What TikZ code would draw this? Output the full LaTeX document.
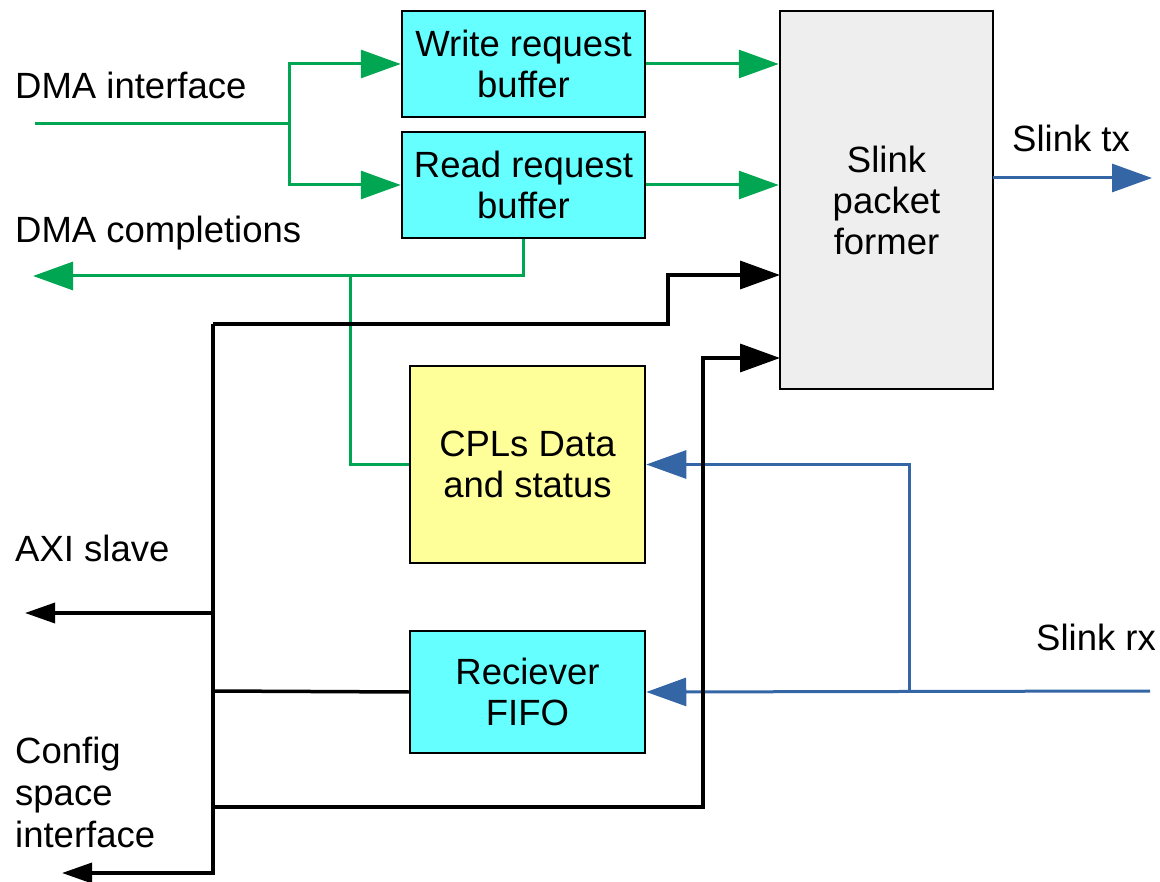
\documentclass[tikz,border=0pt]{standalone}
\usepackage{fontspec}
\setmainfont{Liberation Sans}
\usetikzlibrary{arrows.meta}

\definecolor{sigGreen}{RGB}{0,166,81}
\definecolor{sigBlue}{RGB}{52,101,164}
\definecolor{boxCyan}{RGB}{102,255,255}
\definecolor{boxYellow}{RGB}{255,255,153}
\definecolor{boxGray}{RGB}{238,238,238}

\tikzset{
  blockbox/.style={draw=black, line width=2.5pt, inner sep=0pt, align=center,
    font=\fontsize{36.5}{41}\selectfont},
  label text/.style={inner sep=0pt, anchor=base west, font=\fontsize{36.5}{41}\selectfont},
  bigtip/.tip={Triangle[length=40pt,width=28pt]},
  smalltip/.tip={Triangle[length=30pt,width=20pt]},
  gline/.style={draw=sigGreen, line width=3pt},
  bline/.style={draw=black, line width=3.5pt},
  uline/.style={draw=sigBlue, line width=3pt},
}

\begin{document}
\begin{tikzpicture}[x=1pt,y=-1pt]
\useasboundingbox (0,0) rectangle (1160,882);

% blocks
\node[blockbox, fill=boxCyan, minimum width=243pt, minimum height=106pt] (wrb) at (523.5,64) {Write request\\buffer};
\node[blockbox, fill=boxCyan, minimum width=243pt, minimum height=106pt] (rrb) at (523.5,185) {Read request\\buffer};
\node[blockbox, fill=boxGray, minimum width=213pt, minimum height=378pt] (spf) at (886.5,200) {Slink\\packet\\former};
\node[blockbox, fill=boxYellow, minimum width=235pt, minimum height=197pt] (cpl) at (527.5,464.5) {CPLs Data\\and status};
\node[blockbox, fill=boxCyan, minimum width=235pt, minimum height=122pt] (fifo) at (527.5,692) {Reciever\\FIFO};

% external labels
\node[label text] (ldmain) at (15,99) {DMA interface};
\node[label text] (ldmaout) at (15,243) {DMA completions};
\node[label text] (ltx) at (1012,152) {Slink tx};
\node[label text] (laxi) at (15,561) {AXI slave};
\node[label text] (lrx) at (1036,650) {Slink rx};
\node[label text] (lcfg1) at (15,763) {Config};
\node[label text] (lcfg2) at (15,805) {space};
\node[label text] (lcfg3) at (15,847) {interface};

% connector ends and junctions
\coordinate (dmain) at (35,124);
\coordinate (dmasplit) at (289,124);
\coordinate (dmaout) at (33,276);
\coordinate (cpltap) at (350,276);
\coordinate (sin1) at (780,275);
\coordinate (sin2) at (780,358);
\coordinate (stxa) at (993,178);
\coordinate (stxb) at (1152,178);
\coordinate (srx) at (1150,691);
\coordinate (srxtap) at (909,691);
\coordinate (axi) at (25,613);
\coordinate (cfg) at (62,873);
\coordinate (bustop) at (213,324);
\coordinate (busaxi) at (213,613);
\coordinate (busfifo) at (213,691);
\coordinate (buscfg) at (213,807);

% DMA side (green)
\draw[gline] (dmain) -- (dmasplit);
\draw[gline, -bigtip] (dmasplit) |- (wrb.west);
\draw[gline, -bigtip] (dmasplit) |- (rrb.west);
\draw[gline, -bigtip] (wrb.east) -- (wrb.east -| spf.west);
\draw[gline, -bigtip] (rrb.east) -- (rrb.east -| spf.west);
\draw[gline, -bigtip] (rrb.south) |- (dmaout);
\draw[gline] (cpltap) |- (cpl.west);

% Slink side (blue)
\draw[uline, -bigtip] (stxa) -- (stxb);
\draw[uline, -bigtip] (srx) -- (fifo.east);
\draw[uline, -bigtip] (srxtap) |- (cpl.east);

% bus side (black)
\draw[bline] (fifo.west) -- (busfifo);
\draw[bline, -bigtip] (bustop) -- (668,324) -- (668,275) -- (sin1);
\draw[bline, -bigtip] (buscfg) -- (703,807) -- (703,358) -- (sin2);
\draw[bline, -smalltip] (bustop) -- (213,873) -- (cfg);
\draw[bline, -smalltip] (busaxi) -- (axi);
\end{tikzpicture}
\end{document}
